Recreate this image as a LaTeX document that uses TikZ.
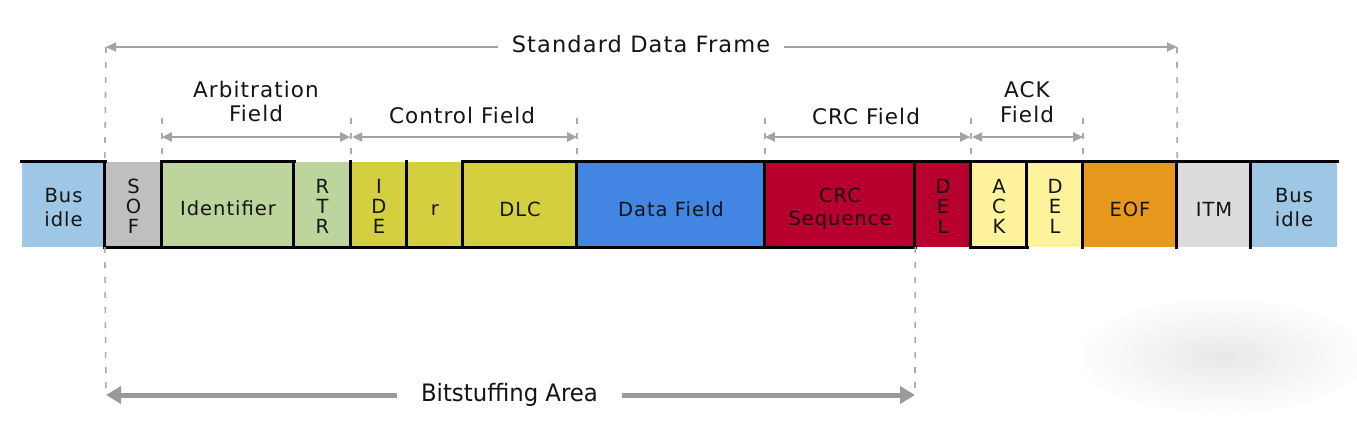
\documentclass[tikz,border=0pt]{standalone}
\usepackage{fontspec}
\setmainfont{DejaVu Sans}[LetterSpace=5]
\newfontfamily\condfont{DejaVu Sans}[FakeStretch=0.95]
\usetikzlibrary{arrows.meta}
\definecolor{cIdle}{HTML}{9DC7E5}
\definecolor{cSof}{HTML}{BFBFBF}
\definecolor{cArb}{HTML}{BDD59C}
\definecolor{cCtl}{HTML}{D3CF3E}
\definecolor{cData}{HTML}{4385E2}
\definecolor{cCrc}{HTML}{B8002F}
\definecolor{cAck}{HTML}{FFF29C}
\definecolor{cEof}{HTML}{E6991D}
\definecolor{cItm}{HTML}{DCDCDC}
\definecolor{cDash}{HTML}{ABABAB}
\definecolor{cArrow}{HTML}{A3A3A3}
\definecolor{cBig}{HTML}{9A9A9A}
\definecolor{cText}{HTML}{141414}
\begin{document}
\begin{tikzpicture}[x=1pt,y=-1pt,
  cell/.style={rectangle, draw=none, inner sep=0pt, minimum height=85pt},
  celltext/.style={inner sep=0pt, align=center, text=cText, font=\fontsize{19.5}{23.5}\selectfont},
  stacktext/.style={inner sep=0pt, align=center, text=cText, font=\fontsize{19.5}{20}\selectfont},
  labeltext/.style={inner sep=0pt, align=center, text=cText, font=\fontsize{21.5}{24.4}\selectfont},
  wave/.style={line width=3pt, black, line cap=rect},
  dashline/.style={cDash, line width=1.6pt, dash pattern=on 6pt off 9pt},
  fieldarrow/.style={cArrow, line width=2pt, {Triangle[length=10pt,width=9pt]}-{Triangle[length=10pt,width=9pt]}},
  toparrow/.style={cArrow, line width=2pt, -{Triangle[length=10pt,width=9pt]}},
  bigarrow/.style={cBig, line width=5pt, -{Triangle[length=15pt,width=17pt]}}
]
\useasboundingbox (0,0) rectangle (1357,426);
\fill[white] (0,0) rectangle (1357,426);
\shade[inner color=black!9, outer color=white] (1222,356) ellipse [x radius=150pt, y radius=60pt];

% frame cells
\node[cell, fill=cIdle, minimum width=83pt]  (idleA) at (63.5,204.5) {};
\node[cell, fill=cSof,  minimum width=57pt]  (sof)   at (133.5,204.5) {};
\node[cell, fill=cArb,  minimum width=132pt] (ident) at (228,204.5) {};
\node[cell, fill=cArb,  minimum width=57pt]  (rtr)   at (322.5,204.5) {};
\node[cell, fill=cCtl,  minimum width=56pt]  (ide)   at (379,204.5) {};
\node[cell, fill=cCtl,  minimum width=56pt]  (rr)    at (435,204.5) {};
\node[cell, fill=cCtl,  minimum width=114pt] (dlc)   at (520,204.5) {};
\node[cell, fill=cData, minimum width=188pt] (data)  at (671,204.5) {};
\node[cell, fill=cCrc,  minimum width=150pt] (crc)   at (840,204.5) {};
\node[cell, fill=cCrc,  minimum width=56pt]  (delA)  at (943,204.5) {};
\node[cell, fill=cAck,  minimum width=56pt]  (ack)   at (999,204.5) {};
\node[cell, fill=cAck,  minimum width=56pt]  (delB)  at (1055,204.5) {};
\node[cell, fill=cEof,  minimum width=94pt]  (eof)   at (1130,204.5) {};
\node[cell, fill=cItm,  minimum width=74pt]  (itm)   at (1214,204.5) {};
\node[cell, fill=cIdle, minimum width=86pt]  (idleB) at (1294,204.5) {};

% signal level lines
\draw[wave] (idleA.north west) -- (idleA.north east);
\draw[wave] (ident.north west) -- (ident.north east);
\draw[wave] (dlc.north west) -- (idleB.north east);
\draw[wave] (sof.south west) -- (crc.south east);
\draw[wave] (ack.south west) -- (ack.south east);
\foreach \n in {sof,ident,rtr,ide,rr,dlc,data,crc,delA,ack,delB,eof,itm,idleB}
  \draw[wave] (\n.north west) -- (\n.south west);

% cell texts
\node[celltext]  (tIdleA) at ([yshift=-3pt]idleA.center) {Bus\\idle};
\node[stacktext] (tSof)   at ([yshift=-2pt]sof.center) {S\\O\\F};
\node[celltext]  (tIdent) at ([yshift=-4pt]ident.center) {Identifier};
\node[stacktext] (tRtr)   at ([yshift=-2pt]rtr.center) {R\\T\\R};
\node[stacktext] (tIde)   at ([yshift=-2pt]ide.center) {I\\D\\E};
\node[celltext]  (tR)     at ([yshift=-5.5pt]rr.center) {r};
\node[celltext]  (tDlc)   at ([yshift=-4.5pt]dlc.center) {DLC};
\node[celltext]  (tData)  at ([yshift=-4.5pt]data.center) {Data Field};
\node[celltext]  (tCrc)   at ([yshift=-4.5pt]crc.center) {CRC\\Sequence};
\node[stacktext] (tDelA)  at ([yshift=-2pt]delA.center) {D\\E\\L};
\node[stacktext] (tAck)   at ([yshift=-2pt]ack.center) {A\\C\\K};
\node[stacktext] (tDelB)  at ([yshift=-2pt]delB.center) {D\\E\\L};
\node[celltext]  (tEof)   at ([yshift=-4.5pt]eof.center) {EOF};
\node[celltext]  (tItm)   at ([yshift=-4.5pt]itm.center) {ITM};
\node[celltext]  (tIdleB) at ([yshift=-3pt]idleB.center) {Bus\\idle};

% helper coordinates
\coordinate (ay) at (0,137);
\coordinate (ty) at (0,118);
\coordinate (sL) at (106,47);
\coordinate (sR) at (1177,47);
\coordinate (bL) at (106,395);
\coordinate (bR) at (915,395);

% dashed guides
\draw[dashline] (sL) -- (sof.north west);
\draw[dashline] (sR) -- (eof.north east);
\draw[dashline] (sof.south west) -- (bL);
\draw[dashline] (crc.south east) -- (bR);
\foreach \p in {ident.north west, rtr.north east, dlc.north east, crc.north west, delA.north east, delB.north east}
  \draw[dashline] (\p |- ty) -- (\p);

% standard data frame
\node[labeltext, inner xsep=14pt, font=\fontsize{22.5}{26}\selectfont] (std) at (641,44) {Standard Data Frame};
\draw[toparrow] (std.west |- sL) -- (sL);
\draw[toparrow] (std.east |- sR) -- (sR);

% field labels and arrows
\node[labeltext] (lArb) at (256,101.7) {Arbitration\\Field};
\node[labeltext] (lCtl) at (462,115.7) {Control Field};
\node[labeltext] (lCrc) at (866,116) {CRC Field};
\node[labeltext] (lAck) at (1027,102) {ACK\\Field};
\draw[fieldarrow, shorten >=1pt] (ident.north west |- ay) -- (rtr.north east |- ay);
\draw[fieldarrow, shorten <=1pt] (rtr.north east |- ay) -- (dlc.north east |- ay);
\draw[fieldarrow, shorten >=1pt] (crc.north west |- ay) -- (delA.north east |- ay);
\draw[fieldarrow, shorten <=1pt] (delA.north east |- ay) -- (delB.north east |- ay);

% bitstuffing area
\node[inner ysep=0pt, inner xsep=23.7pt, text=cText, font=\condfont\fontsize{24}{28}\selectfont] (bit) at (509.5,395) {Bitstuffing Area};
\draw[bigarrow] (bit.west |- bL) -- (bL);
\draw[bigarrow] (bit.east |- bR) -- (bR);
\end{tikzpicture}
\end{document}
